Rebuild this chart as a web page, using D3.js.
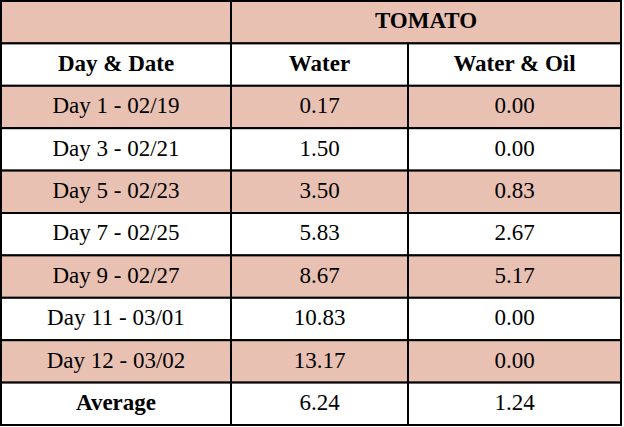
<!DOCTYPE html>
<html><head><meta charset="utf-8">
<script src="https://cdn.jsdelivr.net/npm/d3@7"></script>
<style>body{margin:0;background:#fff} text{font-family:'Liberation Serif','Times New Roman',Times,serif}</style></head>
<body><svg id="c" width="624" height="427"></svg>
<script>
const title = "TOMATO";
const headers = ["Day & Date", "Water", "Water & Oil"];
const days = ["Day 1 - 02/19","Day 3 - 02/21","Day 5 - 02/23","Day 7 - 02/25","Day 9 - 02/27","Day 11 - 03/01","Day 12 - 03/02"];
const water = [0.17,1.50,3.50,5.83,8.67,10.83,13.17];
const waterOil = [0.00,0.00,0.83,2.67,5.17,0.00,0.00];
const avgLabel = "Average";
const avgWater = 6.24, avgOil = 1.24;

const svg = d3.select("#c");
const colEdges = [1, 231, 408, 621];
const nRows = 10;
const y = d3.scaleLinear().domain([0, nRows]).range([1, 425]);
const pink = "#e8c1b3";

const rows = [];
rows.push({cells:["", title], spans:[[0,1],[1,3]], fill:pink, bold:true});
rows.push({cells:headers, spans:[[0,1],[1,2],[2,3]], fill:"#fff", bold:true});
days.forEach((d,i)=>rows.push({cells:[d, water[i].toFixed(2), waterOil[i].toFixed(2)], spans:[[0,1],[1,2],[2,3]], fill: i%2===0?pink:"#fff", bold:false}));
rows.push({cells:[avgLabel, avgWater.toFixed(2), avgOil.toFixed(2)], spans:[[0,1],[1,2],[2,3]], fill:"#fff", bold:false, firstBold:true});

rows.forEach((r, ri) => {
  r.spans.forEach((s, ci) => {
    const x0 = colEdges[s[0]], x1 = colEdges[s[1]];
    const y0 = y(ri), y1 = y(ri+1);
    svg.append("rect").attr("x",x0).attr("y",y0).attr("width",x1-x0).attr("height",y1-y0)
      .attr("fill",r.fill).attr("stroke","#000").attr("stroke-width",2);
    svg.append("text").attr("x",(x0+x1)/2).attr("y",(y0+y1)/2+1)
      .attr("text-anchor","middle").attr("dominant-baseline","middle")
      .attr("font-size",23)
      .attr("font-weight", (r.bold || (r.firstBold && ci===0)) ? "bold" : "normal")
      .text(r.cells[ci]);
  });
});
</script></body></html>
